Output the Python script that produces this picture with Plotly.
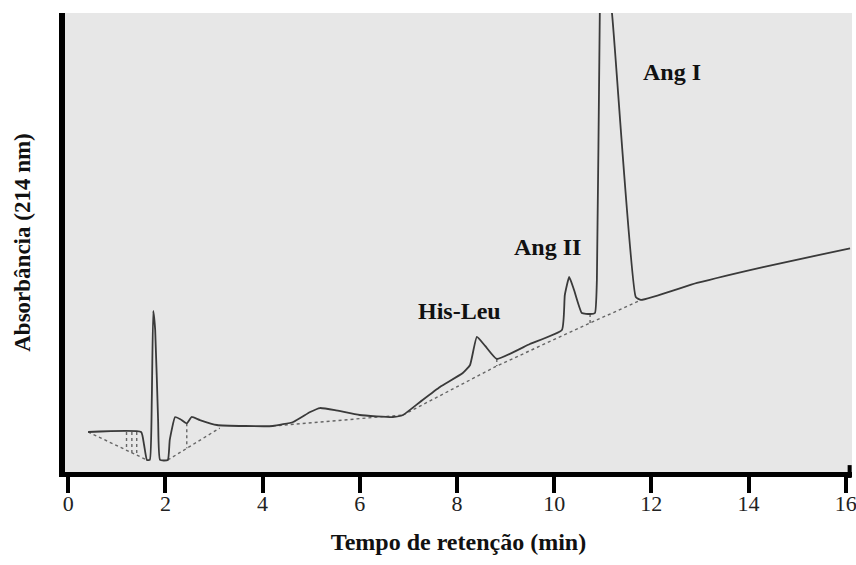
import plotly.graph_objects as go

# chromatogram trace (retention time in min, absorbance in AU)
time_min = [0.41, 1.50, 1.56, 1.62, 1.68, 1.72, 1.75, 1.79, 1.85, 1.89, 2.05,
            2.09, 2.20, 2.30, 2.44, 2.54, 2.71, 3.06, 3.64, 4.21, 4.63, 4.98,
            5.18, 5.49, 6.00, 6.68, 6.89, 7.24, 7.65, 8.12, 8.27, 8.41, 8.58,
            8.82, 9.50, 10.16, 10.22, 10.31, 10.41, 10.57, 10.74, 10.84, 10.88,
            10.94, 10.98, 11.19, 11.68, 11.79, 12.94, 14.30, 16.09]
absorb = [0.0436, 0.0436, 0.0300, 0.0131, 0.0131, 0.0784, 0.1754, 0.1547,
          0.0566, 0.0131, 0.0131, 0.0349, 0.0599, 0.0577, 0.0530, 0.0599,
          0.0566, 0.0512, 0.0501, 0.0501, 0.0545, 0.0654, 0.0697, 0.0675,
          0.0621, 0.0599, 0.0621, 0.0763, 0.0926, 0.1078, 0.1166, 0.1471,
          0.1373, 0.1231, 0.1394, 0.1547, 0.1928, 0.2124, 0.1983, 0.1732,
          0.1721, 0.1732, 0.2092, 0.5000, 0.5795, 0.5000, 0.1906, 0.1874,
          0.2059, 0.2233, 0.2437]

# integration baselines (None separates segments)
base_t = [0.41, 1.62, None, 1.20, 1.20, None, 1.31, 1.31, None, 1.41, 1.41, None,
          2.05, 3.12, None, 2.44, 2.44, None, 4.21, 6.89, None,
          6.89, 8.82, 10.74, 11.79, None, 8.82, 8.82, None, 10.74, 10.74]
base_a = [0.0436, 0.0131, None, 0.0436, 0.0237, None, 0.0436, 0.0209, None,
          0.0436, 0.0184, None, 0.0131, 0.0479, None, 0.0530, 0.0258, None,
          0.0501, 0.0621, None, 0.0621, 0.1155, 0.1623, 0.1874, None,
          0.1231, 0.1155, None, 0.1721, 0.1623]

peak_names = ["His-Leu", "Ang II", "Ang I"]
peak_label_t = [8.06, 9.87, 12.43]
peak_label_a = [0.1754, 0.245, 0.4357]

x_ticks = [0, 2, 4, 6, 8, 10, 12, 14, 16]

SERIF = "Liberation Serif, Times New Roman, serif"

fig = go.Figure()
fig.add_trace(go.Scatter(
    x=base_t, y=base_a, mode="lines",
    line=dict(color="#666666", width=1.4, dash="dot"),
    hoverinfo="skip",
))
fig.add_trace(go.Scatter(
    x=time_min, y=absorb, mode="lines",
    line=dict(color="#3a3a3a", width=1.8, shape="spline", smoothing=0.4),
))

for name, t, a in zip(peak_names, peak_label_t, peak_label_a):
    fig.add_annotation(x=t, y=a, text=f"<b>{name}</b>", showarrow=False,
                       font=dict(family=SERIF, size=24, color="#111111"))

# small end mark at the right of the x axis
fig.add_shape(type="line", xref="paper", yref="paper", x0=0.997, x1=0.997,
              y0=-0.013, y1=0.015, line=dict(color="black", width=4))

fig.update_layout(
    width=856, height=565,
    margin=dict(l=65, r=4, t=13, b=93),
    paper_bgcolor="white",
    plot_bgcolor="#e7e7e7",
    showlegend=False,
    font=dict(family=SERIF, color="#111111"),
    xaxis=dict(
        range=[-0.066, 16.13], tickvals=x_ticks,
        showline=True, linewidth=5, linecolor="black",
        ticks="outside", ticklen=16, tickwidth=4, tickcolor="black",
        tickfont=dict(family=SERIF, size=22, color="#222222"),
        ticklabelstandoff=-8, ticklabeloverflow="allow",
        showgrid=False, zeroline=False, automargin=False,
        title=dict(text="<b>Tempo de retenção (min)</b>",
                   font=dict(family=SERIF, size=24), standoff=19),
    ),
    yaxis=dict(
        range=[0, 0.5], showticklabels=False, ticks="",
        showline=True, linewidth=6, linecolor="black",
        showgrid=False, zeroline=False, automargin=False,
        title=dict(text="<b>Absorbância (214 nm)</b>",
                   font=dict(family=SERIF, size=23), standoff=24),
    ),
)

# drop the default 8px body margin so the figure fills the window exactly
fig.write_html("out.html", config={"displayModeBar": False},
               post_script="document.body.style.margin = '0';")
